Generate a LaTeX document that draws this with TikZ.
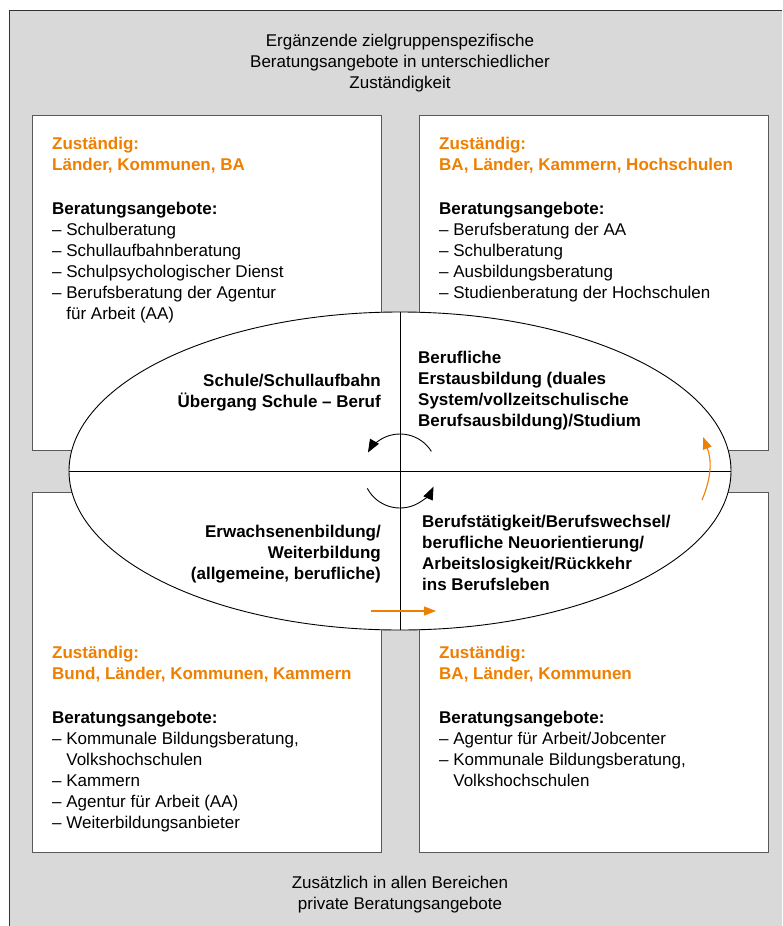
\documentclass[tikz,border=0pt]{standalone}
\usepackage{fontspec}
\setmainfont{Liberation Sans}
\usepackage{xcolor}
\usetikzlibrary{arrows.meta,positioning,shapes.geometric}
\definecolor{dipf}{RGB}{238,127,0}
\definecolor{dipfgray}{RGB}{217,217,217}
\newcommand{\ind}{\hphantom{–~}}
\tikzset{
  field/.style={rectangle,draw=black!65,line width=1.4pt,fill=white,inner sep=0pt,
                anchor=north west,minimum width=349pt,minimum height=#1},
  field/.default=335pt,
  ring/.style={ellipse,draw=black,fill=white,line width=0.9pt,inner sep=0pt,
               minimum width=662pt,minimum height=318pt},
  txt/.style={inner sep=0pt,font=\fontsize{17}{21}\selectfont},
  who/.style={inner sep=0pt,align=left,text=dipf,font=\fontsize{17}{21}\selectfont\bfseries},
  offer/.style={txt,align=left},
  phase/.style={inner sep=0pt,font=\fontsize{17}{21}\selectfont\bfseries},
  axis/.style={draw=black,line width=0.9pt},
  turn/.style={-{Triangle[length=13pt,width=10pt]},line width=0.9pt},
  hint/.style={-{Triangle[length=12pt,width=9pt]},draw=dipf,line width=1.1pt},
}

\begin{document}
\begin{tikzpicture}[x=1pt,y=1pt]
  \useasboundingbox (0,0) rectangle (782,-926);

  % --- grauer Hintergrund ---
  \fill[dipfgray] (9,-10) rectangle (782,-926);
  \draw[line width=1pt,black!80] (9,-926) -- (9,-10) -- (782,-10);

  \node[txt,align=center,anchor=north] (head) at (400,-31.3)
    {\strut Ergänzende zielgruppenspezifische\\
     Beratungsangebote in unterschiedlicher\\
     Zuständigkeit};

  \node[txt,align=center,anchor=north] (foot) at (400,-873.3)
    {\strut Zusätzlich in allen Bereichen\\
     private Beratungsangebote};

  % --- vier Felder ---
  \node[field] (tl) at (32,-115) {};
  \node[field] (tr) at (419,-115) {};
  \node[field=360pt] (bl) at (32,-492) {};
  \node[field=360pt] (br) at (419,-492) {};

  \node[who, below right=19.3pt and 20pt of tl.north west] (tlwho)
    {\strut Zuständig:\\Länder, Kommunen, BA};
  \node[offer, below right=84.3pt and 20pt of tl.north west] (tloffer)
    {\strut\textbf{Beratungsangebote:}\\
     – Schulberatung\\
     – Schullaufbahnberatung\\
     – Schulpsychologischer Dienst\\
     – Berufsberatung der Agentur\\
     \ind für Arbeit (AA)};

  \node[who, below right=19.3pt and 20pt of tr.north west] (trwho)
    {\strut Zuständig:\\BA, Länder, Kammern, Hochschulen};
  \node[offer, below right=84.3pt and 20pt of tr.north west] (troffer)
    {\strut\textbf{Beratungsangebote:}\\
     – Berufsberatung der AA\\
     – Schulberatung\\
     – Ausbildungsberatung\\
     – Studienberatung der Hochschulen};

  \node[who, below right=151.3pt and 20pt of bl.north west] (blwho)
    {\strut Zuständig:\\Bund, Länder, Kommunen, Kammern};
  \node[offer, below right=216.3pt and 20pt of bl.north west] (bloffer)
    {\strut\textbf{Beratungsangebote:}\\
     – Kommunale Bildungsberatung,\\
     \ind Volkshochschulen\\
     – Kammern\\
     – Agentur für Arbeit (AA)\\
     – Weiterbildungsanbieter};

  \node[who, below right=151.3pt and 20pt of br.north west] (brwho)
    {\strut Zuständig:\\BA, Länder, Kommunen};
  \node[offer, below right=216.3pt and 20pt of br.north west] (broffer)
    {\strut\textbf{Beratungsangebote:}\\
     – Agentur für Arbeit/Jobcenter\\
     – Kommunale Bildungsberatung,\\
     \ind Volkshochschulen};

  % --- Ellipse mit Lebensphasen ---
  \node[ring] (ell) at (400,-471) {};
  \draw[axis] (ell.west) -- (ell.east);
  \draw[axis] (ell.north) -- (ell.south);

  \node[phase,align=right,anchor=north east] (school)
    at ([xshift=-19pt,yshift=99.7pt]ell.center)
    {\strut Schule/Schullaufbahn\\Übergang Schule – Beruf};
  \node[phase,align=left,anchor=north west] (train)
    at ([xshift=18pt,yshift=122.7pt]ell.center)
    {\strut Berufliche\\Erstausbildung (duales\\System/vollzeitschulische\\Berufsausbildung)/Studium};
  \node[phase,align=right,anchor=north east] (adult)
    at ([xshift=-19pt,yshift=-51.3pt]ell.center)
    {\strut Erwachsenenbildung/\\Weiterbildung\\(allgemeine, berufliche)};
  \node[phase,align=left,anchor=north west] (work)
    at ([xshift=22pt,yshift=-41.3pt]ell.center)
    {\strut Berufstätigkeit/Berufswechsel/\\berufliche Neuorientierung/\\Arbeitslosigkeit/Rückkehr\\ins Berufsleben};

  % --- Kreislauf-Pfeile ---
  \draw[turn] ([shift={(32:37)}]ell.center) arc[start angle=32,end angle=150,radius=37];
  \draw[turn] ([shift={(208:37)}]ell.center) arc[start angle=208,end angle=335,radius=37];

  \coordinate (hs) at (371,-611);
  \coordinate (he) at (436,-611);
  \draw[hint] (hs) -- (he);
  \coordinate (vs) at (702,-500);
  \coordinate (ve) at (703,-437);
  \draw[hint] (vs) to[bend right=22] (ve);
\end{tikzpicture}
\end{document}
